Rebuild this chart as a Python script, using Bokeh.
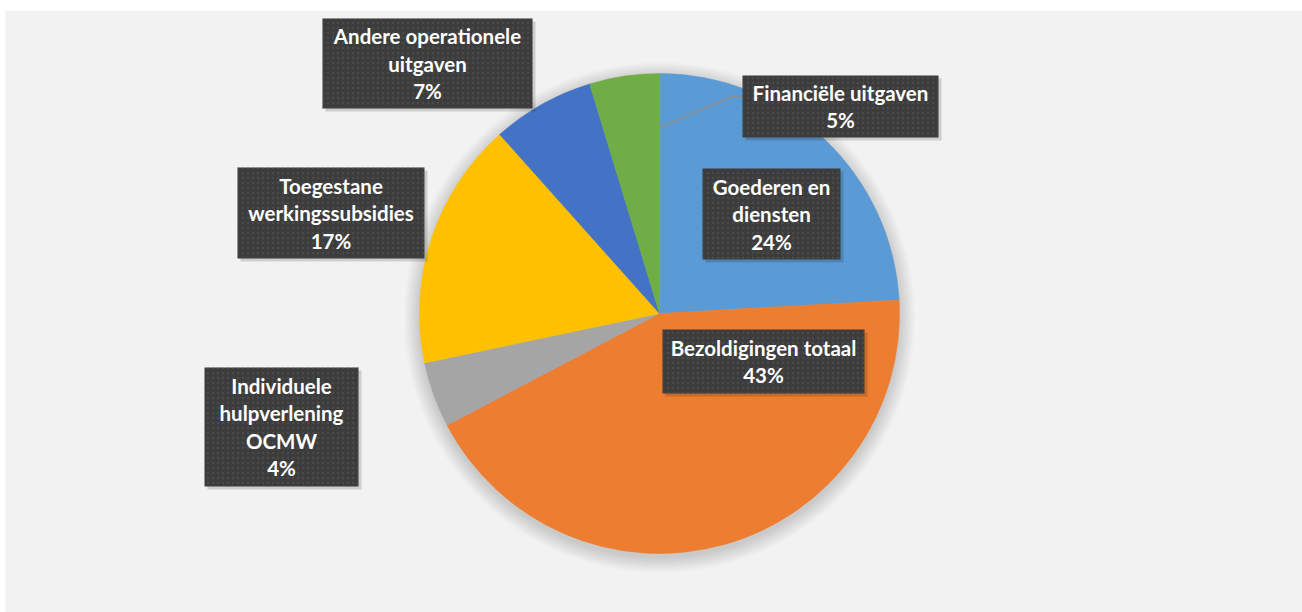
import numpy as np
from bokeh.plotting import figure
from bokeh.models import ColumnDataSource, Range1d
from bokeh.core.properties import value
from bokeh.embed import file_html
from bokeh.resources import INLINE

# ---- data (clockwise from 12 o'clock) ----
categories = ["Goederen en diensten", "Bezoldigingen totaal", "Individuele hulpverlening OCMW",
              "Toegestane werkingssubsidies", "Andere operationele uitgaven", "Financiële uitgaven"]
shares = [24.1, 43.2, 4.4, 16.7, 6.9, 4.7]
colors = ["#5b9bd5", "#ed7d31", "#a5a5a5", "#ffc000", "#4472c4", "#70ad47"]
label_lines = [["Goederen en", "diensten"], ["Bezoldigingen totaal"],
               ["Individuele", "hulpverlening", "OCMW"], ["Toegestane", "werkingssubsidies"],
               ["Andere operationele", "uitgaven"], ["Financiële uitgaven"]]

# ---- layout (page pixel coords of label boxes: left, top, right, bottom) ----
W, H = 1302, 612
boxes = [(702, 168, 840, 259), (662, 329, 864, 393), (204, 367, 358, 486),
         (237, 167, 424, 258), (322, 18, 532, 108), (742, 75, 938, 137)]
LINE_H = 27.5

def X(px):
    return px

def Y(py):
    return H - py

p = figure(width=W, height=H, output_backend="svg", toolbar_location=None,
           x_range=Range1d(0, W), y_range=Range1d(0, H), min_border=0,
           background_fill_color="white", border_fill_color="white", outline_line_color=None)
p.axis.visible = False
p.grid.visible = False

# chart area background
p.quad(left=X(5), right=X(W), top=Y(10), bottom=Y(H), fill_color="#f2f2f2", line_color=None)

cx, cy, R = X(659), Y(313), 240

# soft shadow under pie
for i in range(10):
    p.circle(x=[cx], y=[cy - 4], radius=R + 1 + i * 1.6, fill_color="black",
             fill_alpha=0.016, line_color=None)

vals = np.array(shares, dtype=float)
frac = vals / vals.sum()
cum = np.concatenate([[0], np.cumsum(frac)])
start = np.pi / 2 - cum[1:] * 2 * np.pi
end = np.pi / 2 - cum[:-1] * 2 * np.pi
src = ColumnDataSource(dict(start=start, end=end, color=colors))
p.wedge(x=cx, y=cy, radius=R, start_angle="start", end_angle="end",
        fill_color="color", line_color="color", line_width=0.5, source=src)

# leader line for Financiële uitgaven (from green/blue boundary)
ang = end[0]
r0 = 0.775 * R
sx, sy = cx + r0 * np.cos(ang), cy + r0 * np.sin(ang)
b = boxes[5]
p.line(x=[sx, X(732), X(b[0])], y=[sy, Y(96), Y(96)], line_color="#8c8c8c", line_width=1.5)

# label boxes
for i, (l, t, r, bt) in enumerate(boxes):
    p.quad(left=X(l) + 3, right=X(r) + 3, top=Y(t) - 3, bottom=Y(bt) - 3,
           fill_color="#000000", fill_alpha=0.15, line_color=None)
    p.quad(left=X(l), right=X(r), top=Y(t), bottom=Y(bt), fill_color="#3c3c3c",
           line_color=None, hatch_pattern="dot", hatch_color="#5c5c5c",
           hatch_scale=5, hatch_weight=1, hatch_alpha=0.45)
    lines = label_lines[i] + [f"{round(shares[i]):d}%"]
    n = len(lines)
    ymid = (Y(t) + Y(bt)) / 2
    ys = [ymid + (n - 1) / 2 * LINE_H - k * LINE_H for k in range(n)]
    xs = [(X(l) + X(r)) / 2] * n
    p.text(x=xs, y=ys, text=lines, text_font=value("Lato"), text_font_style="bold",
           text_font_size="20.5px", text_color="white", text_align="center",
           text_baseline="middle")

open("out.html", "w").write(file_html(p, INLINE))
